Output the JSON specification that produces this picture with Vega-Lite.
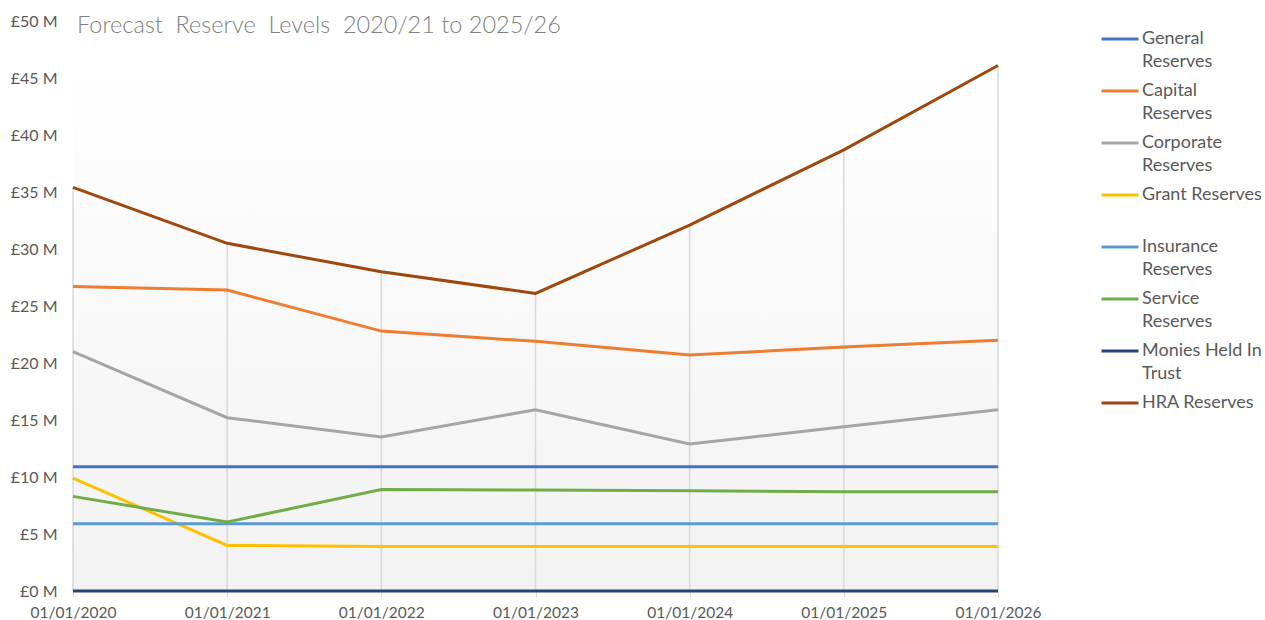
{
  "$schema": "https://vega.github.io/schema/vega-lite/v6.json",
  "width": 925,
  "height": 570,
  "autosize": {"type": "none"},
  "padding": {"left": 73, "top": 21, "right": 267, "bottom": 29},
  "background": "white",
  "config": {"view": {"stroke": null}},
  "title": {
    "text": "Forecast\u00a0 Reserve\u00a0 Levels\u00a0 2020/21 to 2025/26",
    "anchor": "start",
    "frame": "group",
    "orient": "top",
    "offset": -24,
    "dx": 4,
    "font": "Lato",
    "fontSize": 23.5,
    "fontWeight": 300,
    "color": "#808080"
  },
  "data": {
    "values": [
      {"year": 2020, "series": "General Reserves", "value": 10.9},
      {"year": 2021, "series": "General Reserves", "value": 10.9},
      {"year": 2022, "series": "General Reserves", "value": 10.9},
      {"year": 2023, "series": "General Reserves", "value": 10.9},
      {"year": 2024, "series": "General Reserves", "value": 10.9},
      {"year": 2025, "series": "General Reserves", "value": 10.9},
      {"year": 2026, "series": "General Reserves", "value": 10.9},
      {"year": 2020, "series": "Capital Reserves", "value": 26.7},
      {"year": 2021, "series": "Capital Reserves", "value": 26.4},
      {"year": 2022, "series": "Capital Reserves", "value": 22.8},
      {"year": 2023, "series": "Capital Reserves", "value": 21.9},
      {"year": 2024, "series": "Capital Reserves", "value": 20.7},
      {"year": 2025, "series": "Capital Reserves", "value": 21.4},
      {"year": 2026, "series": "Capital Reserves", "value": 22.0},
      {"year": 2020, "series": "Corporate Reserves", "value": 21.0},
      {"year": 2021, "series": "Corporate Reserves", "value": 15.2},
      {"year": 2022, "series": "Corporate Reserves", "value": 13.5},
      {"year": 2023, "series": "Corporate Reserves", "value": 15.9},
      {"year": 2024, "series": "Corporate Reserves", "value": 12.9},
      {"year": 2025, "series": "Corporate Reserves", "value": 14.4},
      {"year": 2026, "series": "Corporate Reserves", "value": 15.9},
      {"year": 2020, "series": "Grant Reserves", "value": 9.9},
      {"year": 2021, "series": "Grant Reserves", "value": 4.0},
      {"year": 2022, "series": "Grant Reserves", "value": 3.9},
      {"year": 2023, "series": "Grant Reserves", "value": 3.9},
      {"year": 2024, "series": "Grant Reserves", "value": 3.9},
      {"year": 2025, "series": "Grant Reserves", "value": 3.9},
      {"year": 2026, "series": "Grant Reserves", "value": 3.9},
      {"year": 2020, "series": "Insurance Reserves", "value": 5.9},
      {"year": 2021, "series": "Insurance Reserves", "value": 5.9},
      {"year": 2022, "series": "Insurance Reserves", "value": 5.9},
      {"year": 2023, "series": "Insurance Reserves", "value": 5.9},
      {"year": 2024, "series": "Insurance Reserves", "value": 5.9},
      {"year": 2025, "series": "Insurance Reserves", "value": 5.9},
      {"year": 2026, "series": "Insurance Reserves", "value": 5.9},
      {"year": 2020, "series": "Service Reserves", "value": 8.3},
      {"year": 2021, "series": "Service Reserves", "value": 6.05},
      {"year": 2022, "series": "Service Reserves", "value": 8.9},
      {"year": 2023, "series": "Service Reserves", "value": 8.85},
      {"year": 2024, "series": "Service Reserves", "value": 8.8},
      {"year": 2025, "series": "Service Reserves", "value": 8.7},
      {"year": 2026, "series": "Service Reserves", "value": 8.7},
      {"year": 2020, "series": "Monies Held In Trust", "value": 0},
      {"year": 2021, "series": "Monies Held In Trust", "value": 0},
      {"year": 2022, "series": "Monies Held In Trust", "value": 0},
      {"year": 2023, "series": "Monies Held In Trust", "value": 0},
      {"year": 2024, "series": "Monies Held In Trust", "value": 0},
      {"year": 2025, "series": "Monies Held In Trust", "value": 0},
      {"year": 2026, "series": "Monies Held In Trust", "value": 0},
      {"year": 2020, "series": "HRA Reserves", "value": 35.4},
      {"year": 2021, "series": "HRA Reserves", "value": 30.5},
      {"year": 2022, "series": "HRA Reserves", "value": 28.0},
      {"year": 2023, "series": "HRA Reserves", "value": 26.1},
      {"year": 2024, "series": "HRA Reserves", "value": 32.1},
      {"year": 2025, "series": "HRA Reserves", "value": 38.7},
      {"year": 2026, "series": "HRA Reserves", "value": 46.1}
    ]
  },
  "encoding": {
    "x": {
      "field": "year",
      "type": "quantitative",
      "scale": {"domain": [2020, 2026], "nice": false, "zero": false},
      "axis": {
        "title": null,
        "values": [2020, 2021, 2022, 2023, 2024, 2025, 2026],
        "labelExpr": "'01/01/' + datum.value",
        "grid": false,
        "domain": true,
        "domainColor": "#d9d9d9",
        "ticks": true,
        "tickColor": "#d9d9d9",
        "tickSize": 6,
        "labelPadding": 8,
        "labelFont": "Lato",
        "labelFontSize": 15.5,
        "labelColor": "#595959",
        "labelFlush": false
      }
    },
    "y": {
      "field": "value",
      "type": "quantitative",
      "scale": {"domain": [0, 50], "nice": false},
      "axis": {
        "title": null,
        "values": [0, 5, 10, 15, 20, 25, 30, 35, 40, 45, 50],
        "labelExpr": "'£' + datum.value + ' M'",
        "grid": false,
        "domain": false,
        "ticks": false,
        "labelPadding": 16,
        "labelFont": "Lato",
        "labelFontSize": 16,
        "labelColor": "#595959"
      }
    }
  },
  "layer": [
    {
      "mark": {
        "type": "rect",
        "fill": {
          "gradient": "linear",
          "x1": 0, "y1": 0, "x2": 0, "y2": 1,
          "stops": [
            {"offset": 0, "color": "#fefefe"},
            {"offset": 1, "color": "#f2f2f2"}
          ]
        }
      },
      "encoding": {
        "x": {"datum": 2020, "type": "quantitative"},
        "x2": {"datum": 2026},
        "y": {"datum": 0, "type": "quantitative"},
        "y2": {"datum": 44.4}
      }
    },
    {
      "transform": [{"filter": "datum.series == 'HRA Reserves'"}],
      "mark": {"type": "rule", "color": "#d9d9d9", "strokeWidth": 1.5},
      "encoding": {
        "y2": {"datum": 0}
      }
    },
    {
      "mark": {"type": "line", "strokeWidth": 3},
      "encoding": {
        "color": {
          "field": "series",
          "type": "nominal",
          "scale": {
            "domain": ["General Reserves", "Capital Reserves", "Corporate Reserves", "Grant Reserves", "Insurance Reserves", "Service Reserves", "Monies Held In Trust", "HRA Reserves"],
            "range": ["#4472C4", "#ED7D31", "#A5A5A5", "#FFC000", "#5B9BD5", "#70AD47", "#264478", "#9E480E"]
          },
          "legend": {
            "title": null,
            "orient": "none",
            "legendX": 1027,
            "legendY": -2,
            "symbolType": "M-1,0L1,0",
            "symbolStrokeWidth": 3,
            "symbolSize": 1369,
            "labelOffset": 2,
            "labelFont": "Lato",
            "labelFontSize": 18,
            "labelColor": "#595959",
            "labelLimit": 200,
            "labelBaseline": "top",
            "rowPadding": 0,
            "labelExpr": "datum.label == 'General Reserves' ? ['General', 'Reserves'] : datum.label == 'Capital Reserves' ? ['Capital', 'Reserves'] : datum.label == 'Corporate Reserves' ? ['Corporate', 'Reserves'] : datum.label == 'Grant Reserves' ? ['Grant Reserves', ' '] : datum.label == 'Insurance Reserves' ? ['Insurance', 'Reserves'] : datum.label == 'Service Reserves' ? ['Service', 'Reserves'] : datum.label == 'Monies Held In Trust' ? ['Monies Held In', 'Trust'] : ['HRA Reserves', ' ']",
            "encode": {
              "labels": {"update": {"lineHeight": {"value": 23}, "dy": {"value": -9}}}
            }
          }
        }
      }
    }
  ]
}
